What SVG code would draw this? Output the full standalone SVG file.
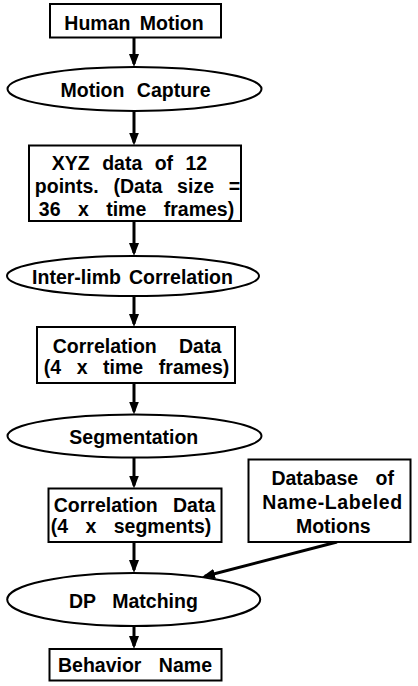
<svg xmlns="http://www.w3.org/2000/svg" width="418" height="686" viewBox="0 0 418 686">
<style>
.box{fill:#fff;stroke:#000;stroke-width:2}
.ell{fill:#fff;stroke:#000;stroke-width:2}
.t{font-family:"Liberation Sans",Arial,sans-serif;font-weight:bold;font-size:19.5px;fill:#000;text-anchor:middle}
.arr{stroke:#000;stroke-width:3;fill:none;marker-end:url(#ah)}
</style>
<defs>
<marker id="ah" markerUnits="userSpaceOnUse" markerWidth="13" markerHeight="10" refX="10" refY="5" orient="auto">
<path d="M0,0 L13,5 L0,10 z" fill="#000"/>
</marker>
</defs>
<rect width="418" height="686" fill="#fff"/>
<g id="connectors">
<line class="arr" x1="134" y1="38" x2="134" y2="64"/>
<line class="arr" x1="134" y1="111" x2="134" y2="142.5"/>
<line class="arr" x1="134" y1="221" x2="134" y2="253"/>
<line class="arr" x1="134" y1="296" x2="134" y2="324"/>
<line class="arr" x1="134" y1="383" x2="134" y2="411.5"/>
<line class="arr" x1="134" y1="457.5" x2="134" y2="485.5"/>
<line class="arr" x1="134" y1="542" x2="134" y2="570"/>
<line class="arr" x1="134" y1="626" x2="134" y2="646"/>
<line class="arr" x1="337" y1="542" x2="204.9" y2="576.2"/>
</g>
<g id="human-motion">
<rect class="box" x="50" y="4" width="171" height="33.5"/>
<text class="t" x="134" y="29.5" word-spacing="4">Human Motion</text>
</g>
<g id="motion-capture">
<ellipse class="ell" cx="134.5" cy="89" rx="127" ry="22"/>
<text class="t" x="135.5" y="96.7" word-spacing="7">Motion Capture</text>
</g>
<g id="xyz-data">
<rect class="box" x="29" y="145.5" width="212" height="75.5"/>
<text class="t" x="129.5" y="169.5" word-spacing="7">XYZ data of 12</text>
<text class="t" x="137.5" y="193" word-spacing="9.4">points. (Data size =</text>
<text class="t" x="136.5" y="216" word-spacing="12">36 x time frames)</text>
</g>
<g id="inter-limb-correlation">
<ellipse class="ell" cx="133" cy="276" rx="126" ry="20"/>
<text class="t" x="132.5" y="284" word-spacing="2.6">Inter-limb Correlation</text>
</g>
<g id="correlation-data-frames">
<rect class="box" x="37" y="327" width="198" height="56"/>
<text class="t" x="137" y="352.5" word-spacing="16.8">Correlation Data</text>
<text class="t" x="136.5" y="373.5" word-spacing="10.2">(4 x time frames)</text>
</g>
<g id="segmentation">
<ellipse class="ell" cx="134.5" cy="436" rx="127" ry="21.5"/>
<text class="t" x="133.8" y="444">Segmentation</text>
</g>
<g id="correlation-data-segments">
<rect class="box" x="48.5" y="488.5" width="173" height="53.5"/>
<text class="t" x="134.5" y="512" word-spacing="9.8">Correlation Data</text>
<text class="t" x="131" y="533" word-spacing="12">(4 x segments)</text>
</g>
<g id="database">
<rect class="box" x="248.5" y="459.5" width="162" height="82.5"/>
<text class="t" x="332.7" y="485" word-spacing="12">Database of</text>
<text class="t" x="332.2" y="509" textLength="140" lengthAdjust="spacing">Name-Labeled</text>
<text class="t" x="333.3" y="533">Motions</text>
</g>
<g id="dp-matching">
<ellipse class="ell" cx="133.7" cy="599.5" rx="126.5" ry="26.5"/>
<text class="t" x="133.4" y="608" word-spacing="11.1">DP Matching</text>
</g>
<g id="behavior-name">
<rect class="box" x="49.5" y="649" width="172" height="31.5"/>
<text class="t" x="135" y="672" word-spacing="12">Behavior Name</text>
</g>
</svg>
